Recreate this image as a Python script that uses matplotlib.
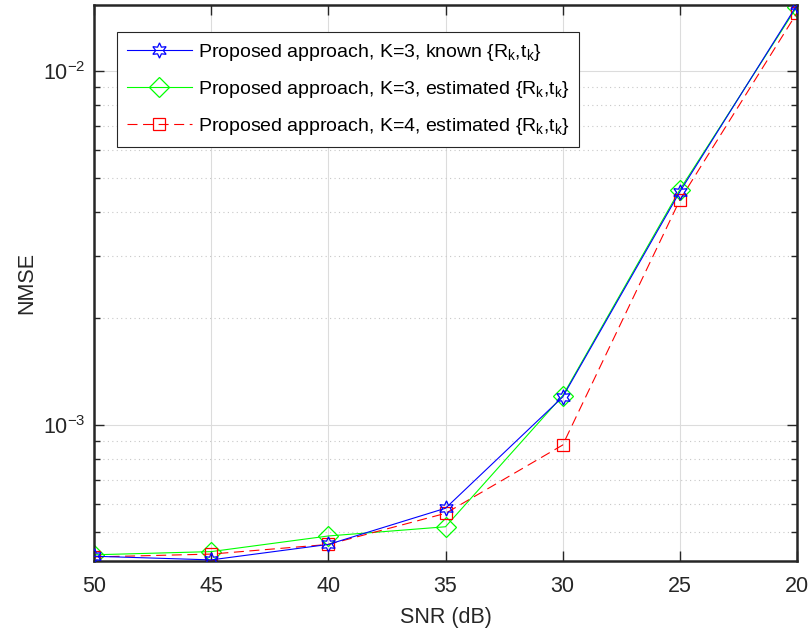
import matplotlib
matplotlib.use("Agg")
import matplotlib.pyplot as plt
from matplotlib.ticker import LogLocator, NullFormatter, FixedLocator

plt.rcParams['font.family'] = ['Liberation Sans', 'DejaVu Sans']
plt.rcParams['mathtext.fontset'] = 'custom'
plt.rcParams['mathtext.rm'] = 'Liberation Sans'
plt.rcParams['mathtext.it'] = 'Liberation Sans'

snr = [50, 45, 40, 35, 30, 25, 20]
nmse_k3_known = [4.26e-4, 4.16e-4, 4.60e-4, 5.82e-4, 1.20e-3, 4.56e-3, 1.536e-2]
nmse_k3_est = [4.30e-4, 4.39e-4, 4.86e-4, 5.16e-4, 1.21e-3, 4.62e-3, 1.52e-2]
nmse_k4_est = [4.24e-4, 4.32e-4, 4.60e-4, 5.63e-4, 8.78e-4, 4.32e-3, 1.46e-2]
labels = [r'Proposed approach, K=3, known {R$_\mathregular{k}$,t$_\mathregular{k}$}',
          r'Proposed approach, K=3, estimated {R$_\mathregular{k}$,t$_\mathregular{k}$}',
          r'Proposed approach, K=4, estimated {R$_\mathregular{k}$,t$_\mathregular{k}$}']

fig = plt.figure(figsize=(8.12, 6.34), dpi=100)
ax = fig.add_axes([94/812, 1-561/634, (797-94)/812, (561-5)/634])

ax.plot(snr, nmse_k3_known, color='#0000ff', lw=0.8, marker=(6, 1, 0), ms=11,
        mfc='none', mec='#0000ff', mew=0.9, label=labels[0], zorder=3)
ax.plot(snr, nmse_k3_est, color='#00ff00', lw=0.8, marker='D', ms=10,
        mfc='none', mec='#00ff00', mew=0.9, label=labels[1], zorder=2)
ax.plot(snr, nmse_k4_est, color='#ff0000', lw=0.8, ls=(0, (9, 5)), marker='s', ms=8,
        mfc='none', mec='#ff0000', mew=0.9, label=labels[2], zorder=2)

ax.set_yscale('log')
ax.set_xlim(50, 20)
ax.set_ylim(4.13e-4, 1.536e-2)
ax.xaxis.set_major_locator(FixedLocator(snr))
ax.yaxis.set_major_locator(LogLocator(base=10, numticks=10))
ax.yaxis.set_minor_locator(LogLocator(base=10, subs=range(2, 10), numticks=20))
ax.yaxis.set_minor_formatter(NullFormatter())

ax.grid(True, which='major', color='#dcdcdc', lw=0.8, ls='-')
ax.grid(True, which='minor', axis='y', color='#c8c8c8', lw=0.8, ls=(0, (1, 3)))
ax.set_axisbelow(True)

ax.tick_params(which='both', direction='in', top=True, right=True, colors='#262626',
               labelsize=15.5, width=1.0)
ax.tick_params(which='major', length=7)
ax.tick_params(which='minor', length=4)
ax.tick_params(axis='x', which='major', pad=11)
ax.tick_params(axis='y', which='major', pad=6)
for sp in ax.spines.values():
    sp.set_color('#262626')
    sp.set_linewidth(1.8)

ax.set_xlabel('SNR (dB)', fontsize=15.5, color='#262626', labelpad=7)
ax.set_ylabel('NMSE', fontsize=15.5, color='#262626', labelpad=4)

leg = ax.legend(loc='upper left', bbox_to_anchor=(0.0327, 0.951), borderaxespad=0,
                fontsize=14, handlelength=3.35, borderpad=0.5, labelspacing=0.83,
                handletextpad=0.3, fancybox=False, framealpha=1, edgecolor='#262626')
leg.get_frame().set_linewidth(0.8)

fig.savefig('out.png', dpi=100)
